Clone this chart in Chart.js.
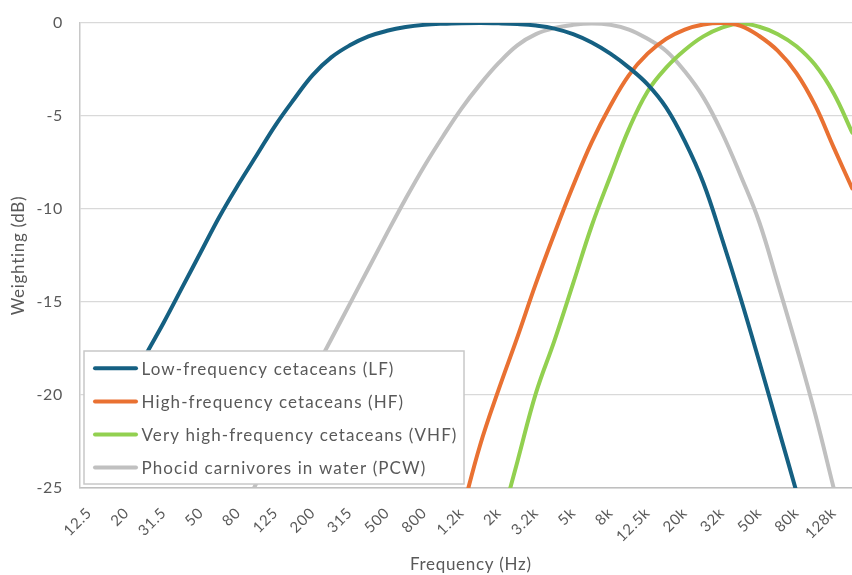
<!DOCTYPE html>
<html><head><meta charset="utf-8">
<script src="https://cdn.jsdelivr.net/npm/chart.js@4.4.1/dist/chart.umd.min.js"></script>
<style>
html,body{margin:0;padding:0;background:#fff;overflow:hidden;}
#wrap{position:relative;width:881px;height:575px;}
</style></head><body>
<div id="wrap"><canvas id="c"></canvas></div>
<script>
// Third-octave band centre frequencies (every other one is labelled on the axis)
const categories = ['12.5','16','20','25','31.5','40','50','63','80','100','125','160','200','250','315','400','500','630','800','1k','1.2k','1.6k','2k','2.5k','3.2k','4k','5k','6.3k','8k','10k','12.5k','16k','20k','25k','32k','40k','50k','64k','80k','100k','128k','160k'];

const seriesNames = ['Low-frequency cetaceans (LF)','High-frequency cetaceans (HF)','Very high-frequency cetaceans (VHF)','Phocid carnivores in water (PCW)'];

const lfValues  = [-23.8,-21.8,-19.8,-17.9,-16.1,-14.2,-12.3,-10.4,-8.7,-7.1,-5.5,-4.1,-2.8,-1.85,-1.2,-0.72,-0.42,-0.22,-0.1,-0.04,-0.01,0,-0.02,-0.06,-0.14,-0.3,-0.6,-1.05,-1.65,-2.4,-3.3,-4.55,-6.35,-8.6,-11.6,-14.8,-18.2,-21.7,-25.2,-28.8,-32.5,-36.2];
const hfValues  = [null,null,null,null,null,null,null,null,null,null,null,null,null,null,null,null,null,null,null,-30.0,-26.4,-22.7,-19.7,-16.9,-14.0,-11.3,-8.75,-6.4,-4.45,-2.8,-1.65,-0.85,-0.35,-0.08,0,-0.15,-0.7,-1.5,-2.69,-4.42,-6.69,-8.9];
const vhfValues = [null,null,null,null,null,null,null,null,null,null,null,null,null,null,null,null,null,null,null,null,null,null,-27.3,-23.6,-19.9,-17.06,-14.0,-10.9,-8.24,-5.69,-3.68,-2.4,-1.45,-0.72,-0.25,-0.03,-0.2,-0.6,-1.25,-2.25,-3.78,-5.9];
const pcwValues = [-42.7,-40.7,-38.7,-36.7,-34.7,-32.7,-30.7,-28.7,-26.7,-24.7,-22.7,-20.8,-18.9,-17.0,-15.1,-13.2,-11.3,-9.45,-7.7,-6.1,-4.6,-3.3,-2.15,-1.2,-0.6,-0.27,-0.1,-0.03,-0.1,-0.35,-0.85,-1.5,-2.6,-4.0,-5.9,-8.2,-10.7,-14.0,-17.4,-21.0,-25.0,-29.0];

const yTicks = [0,-5,-10,-15,-20,-25];

const colors = ['#156082','#E97132','#92D050','#C0C0C0'];
const values = [lfValues, hfValues, vhfValues, pcwValues];

const spacing = {
  id: 'spacing',
  beforeLayout(chart) { chart.ctx.letterSpacing = '0.7px'; },
  beforeDraw(chart) { chart.ctx.letterSpacing = '0.7px'; }
};

const insideLegend = {
  id: 'insideLegend',
  afterDatasetsDraw(chart) {
    const {ctx, chartArea} = chart;
    const x0 = chartArea.left + 4, y0 = chartArea.top + 328, w = 380, h = 133;
    ctx.save();
    ctx.fillStyle = '#ffffff';
    ctx.fillRect(x0, y0, w, h);
    ctx.strokeStyle = '#C8C8C8';
    ctx.lineWidth = 1.5;
    ctx.strokeRect(x0, y0, w, h);
    chart.data.datasets.forEach((ds, i) => {
      const cy = y0 + 17.3 + i * 33.1;
      ctx.strokeStyle = ds.borderColor;
      ctx.lineWidth = 4;
      ctx.lineCap = 'round';
      ctx.beginPath();
      ctx.moveTo(x0 + 11, cy);
      ctx.lineTo(x0 + 52, cy);
      ctx.stroke();
      ctx.fillStyle = '#595959';
      ctx.font = '17px Lato';
      ctx.letterSpacing = '1.1px';
      ctx.textBaseline = 'middle';
      ctx.textAlign = 'left';
      ctx.fillText(ds.label, x0 + 57.5, cy + 1);
    });
    ctx.restore();
  }
};

new Chart(document.getElementById('c'), {
  type: 'line',
  data: {
    labels: categories,
    datasets: values.map((v, i) => ({
      label: seriesNames[i],
      data: v,
      borderColor: colors[i],
      backgroundColor: colors[i],
      borderWidth: 4,
      pointRadius: 0,
      tension: 0.4,
      spanGaps: false,
      borderCapStyle: 'round',
      borderJoinStyle: 'round'
    }))
  },
  options: {
    responsive: true,
    maintainAspectRatio: false,
    animation: false,
    layout: { padding: { left: 0, top: 23, right: 0, bottom: 0 } },
    plugins: { legend: { display: false }, tooltip: { enabled: false } },
    scales: {
      x: {
        type: 'category',
        offset: true,
        grid: { display: false, drawTicks: false },
        border: { display: true, color: '#BFBFBF', width: 1.5 },
        ticks: {
          autoSkip: false,
          minRotation: 45,
          maxRotation: 45,
          padding: 16,
          color: '#595959',
          font: { family: 'Lato', size: 15 },
          callback: function (val, idx) { return idx % 2 === 0 ? categories[idx] : ''; }
        },
        title: { display: true, text: 'Frequency (Hz)', color: '#595959', font: { family: 'Lato', size: 17 }, padding: { top: 0, bottom: 0 } },
        afterFit: s => { s.height = 87; }
      },
      y: {
        min: -25,
        max: 0,
        afterBuildTicks: s => { s.ticks = yTicks.map(v => ({ value: v })); },
        grid: { color: '#D9D9D9', lineWidth: 1.2, drawTicks: true, tickLength: 13, tickColor: 'rgba(0,0,0,0)' },
        border: { display: true, color: '#C8C8C8', width: 1.5 },
        ticks: { padding: 4, color: '#595959', font: { family: 'Lato', size: 16 } },
        title: { display: true, text: 'Weighting (dB)', color: '#595959', font: { family: 'Lato', size: 17 }, padding: { top: 8, bottom: 0 } },
        afterFit: s => { s.width = 80; }
      }
    }
  },
  plugins: [spacing, insideLegend]
});
</script>
</body></html>
